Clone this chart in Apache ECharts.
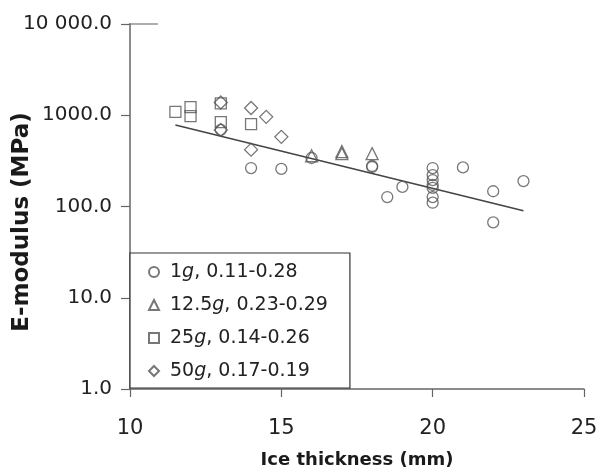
<!DOCTYPE html>
<html><head><meta charset="utf-8">
<script src="https://cdn.jsdelivr.net/npm/echarts@6/dist/echarts.min.js"></script>
<style>html,body{margin:0;padding:0;background:#fff}#c{width:598px;height:473px}</style>
</head><body><div id="c"></div>
<script>
const seriesNames = ['1g, 0.11-0.28', '12.5g, 0.23-0.29', '25g, 0.14-0.26', '50g, 0.17-0.19'];
const legendPrefix = ['1', '12.5', '25', '50'];
const legendSuffix = [', 0.11-0.28', ', 0.23-0.29', ', 0.14-0.26', ', 0.17-0.19'];
const x1g = [13, 14, 15, 16, 18, 18, 18.5, 19, 20, 20, 20, 20, 20, 20, 20, 21, 22, 22, 23];
const y1g = [690, 264, 258, 340, 278, 271, 127, 164, 264, 221, 195, 172, 160, 127, 110, 268, 147, 67, 190];
const x12g = [16, 17, 17, 18];
const y12g = [360, 400, 380, 380];
const x25g = [11.5, 12, 12, 13, 13, 14];
const y25g = [1090, 1230, 980, 1350, 840, 800];
const x50g = [13, 13, 14, 14.5, 15, 14];
const y50g = [1380, 690, 1200, 960, 580, 420];
const trendX = [11.5, 23];
const trendY = [780, 90];
const xTickLabels = ['10', '15', '20', '25'];
const yTickLabels = ['1.0', '10.0', '100.0', '1000.0', '10 000.0'];

const FONT = 'DejaVu Sans';
const zip = (xs, ys) => xs.map((x, i) => [x, ys[i]]);
const markStyle = { color: 'rgba(0,0,0,0)', borderColor: '#555', borderWidth: 1.3 };

const chart = echarts.init(document.getElementById('c'), null, { renderer: 'canvas' });
chart.setOption({
  animation: false,
  backgroundColor: '#fff',
  grid: { left: 130, right: 14, top: 24, bottom: 84, containLabel: false, outerBoundsMode: 'none' },
  xAxis: {
    type: 'value', min: 10, max: 25, interval: 5,
    name: 'Ice thickness (mm)', nameLocation: 'middle', nameGap: 62,
    nameTextStyle: { fontFamily: FONT, fontWeight: 'bold', fontSize: 18, color: '#1a1a1a' },
    axisLine: { show: true, lineStyle: { color: '#666', width: 1.5 } },
    axisTick: { show: true, inside: false, length: 8, lineStyle: { color: '#666', width: 1.2 } },
    axisLabel: { margin: 29, fontFamily: FONT, fontSize: 21, color: '#222',
      formatter: v => xTickLabels[Math.round((v - 10) / 5)] },
    splitLine: { show: false }
  },
  yAxis: {
    type: 'log', logBase: 10, min: 1, max: 10000,
    axisLine: { show: true, lineStyle: { color: '#666', width: 1.5 } },
    axisTick: { show: true, inside: false, length: 9, lineStyle: { color: '#666', width: 1.2 } },
    minorTick: { show: false },
    axisLabel: { margin: 18, fontFamily: FONT, fontSize: 20, color: '#222',
      formatter: v => yTickLabels[Math.round(Math.log10(v))] },
    splitLine: { show: false }
  },
  legend: {
    orient: 'vertical', left: 130, top: 253,
    padding: [9, 22, 7, 18], itemGap: 13, itemWidth: 10, itemHeight: 10,
    backgroundColor: '#fff', borderColor: '#333', borderWidth: 1.2,
    data: seriesNames,
    formatter: name => {
      const i = seriesNames.indexOf(name);
      return '{a|' + legendPrefix[i] + '}{i|g}{n|' + legendSuffix[i] + '}';
    },
    textStyle: {
      lineHeight: 20,
      rich: {
        a: { fontFamily: FONT, fontSize: 19, color: '#222', lineHeight: 20, padding: [0, 0, 0, 6] },
        n: { fontFamily: FONT, fontSize: 19, color: '#222', lineHeight: 20 },
        i: { fontFamily: FONT, fontSize: 19, color: '#222', fontStyle: 'italic', lineHeight: 20 }
      }
    }
  },
  graphic: [
    { type: 'text', rotation: Math.PI / 2, x: 22, y: 222,
      style: { text: 'E-modulus (MPa)', fontFamily: FONT, fontWeight: 'bold', fontSize: 23,
        fill: '#1a1a1a', textAlign: 'center', textVerticalAlign: 'middle' } },
    { type: 'line', shape: { x1: 129, y1: 24, x2: 158, y2: 24 }, style: { stroke: '#777', lineWidth: 1.2 } }
  ],
  series: [
    { name: seriesNames[0], type: 'scatter', symbol: 'circle', symbolSize: 11, data: zip(x1g, y1g), itemStyle: markStyle },
    { name: seriesNames[1], type: 'scatter', symbol: 'triangle', symbolSize: 12, data: zip(x12g, y12g), itemStyle: markStyle },
    { name: seriesNames[2], type: 'scatter', symbol: 'rect', symbolSize: 11, data: zip(x25g, y25g), itemStyle: markStyle },
    { name: seriesNames[3], type: 'scatter', symbol: 'diamond', symbolSize: 13, data: zip(x50g, y50g), itemStyle: markStyle },
    { name: 'trend', type: 'line', data: zip(trendX, trendY), symbol: 'none',
      lineStyle: { color: '#444', width: 1.5 }, z: 1 }
  ]
});
</script></body></html>
